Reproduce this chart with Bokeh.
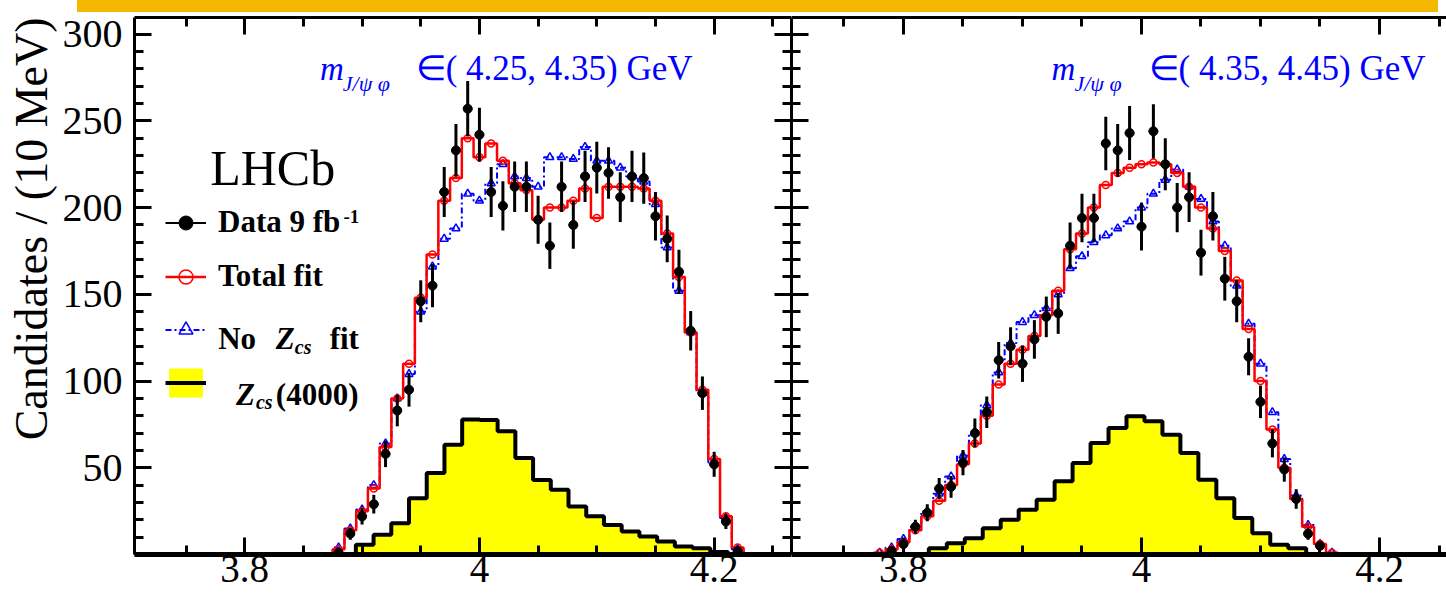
import numpy as np
from bokeh.plotting import figure
from bokeh.models import (ColumnDataSource, Range1d, LinearAxis, FixedTicker, Label,
                          Legend, LegendItem, Div, Title)
from bokeh.layouts import row, column
from bokeh.embed import file_html
from bokeh.resources import INLINE

SERIF = "Liberation Serif"
RED = "#FF0000"
BLUE = "#0000FF"
YELLOW = "#FFFF00"
ORANGE = "#F5B800"

# ---------------- data ----------------
# 10 MeV bin centres of m(J/psi K+) [GeV]
left_bins = np.round(np.arange(3.87, 4.2305, 0.01), 2)    # 3.87 .. 4.23
right_bins = np.round(np.arange(3.77, 4.1705, 0.01), 2)   # 3.77 .. 4.17

# m(J/psi phi) in (4.25, 4.35) GeV
left_data = [1, 12, 22, 29, 58, 83, 95, 146, 155, 209, 233, 257, 242, 209, 201,
             212, 212, 193, 178, 212, 190, 218, 223, 220, 206, 218, 217, 195, 182,
             163, 129, 93, 52, 19, 2]                       # bins 3.88 .. 4.22
left_total = [0, 3, 14, 25, 38, 62, 90, 110, 148, 173, 204, 217, 240, 229, 237,
              227, 214, 210, 193, 200, 200, 204, 211, 194, 212, 212, 212, 211, 204,
              185, 160, 128, 95, 55, 22, 4, 0]
left_nozcs = [0, 4, 15, 26, 40, 64, 90, 104, 140, 166, 182, 188, 208, 204, 214,
              225, 218, 217, 212, 229, 229, 228, 235, 227, 227, 223, 218, 215, 202,
              177, 152, 128, 93, 53, 21, 3, 0]
left_zcs_lo = 3.8947
left_zcs = [5.6, 11.4, 18, 32.5, 47, 63.3, 77.8, 77.5, 71, 55.6, 43, 37.3, 27.7,
            22, 17, 13.3, 10.4, 7.5, 4.6, 3.6, 1.5]

# m(J/psi phi) in (4.35, 4.45) GeV
right_data = [2, 6, 16, 24, 38, 39, 53, 70, 82, 112, 120, 110, 124, 137, 139, 178,
              194, 194, 237, 233, 243, 189, 244, 225, 200, 206, 174, 195, 159, 146,
              114, 88, 64, 49, 32, 12, 5]                   # bins 3.79 .. 4.15
right_total = [0, 1, 3, 7, 14, 22, 31, 40, 52, 64, 80, 98, 110, 118, 126, 138, 152,
               176, 185, 200, 213, 220, 223, 225, 226, 225, 220, 212, 200, 188, 175,
               158, 130, 100, 72, 50, 32, 16, 6, 1, 0]
right_nozcs = [0, 1, 4, 9, 16, 25, 35, 45, 57, 70, 86, 105, 122, 134, 138, 142, 150,
               165, 172, 180, 184, 188, 192, 200, 208, 216, 222, 212, 205, 192, 178,
               155, 133, 110, 82, 55, 34, 17, 6, 1, 0]
right_zcs_lo = 3.8213
right_zcs = [3.6, 6.5, 9.4, 15.2, 20, 25.8, 31.6, 42.2, 52.7, 64.3, 72.9, 79.7,
             76.8, 69.1, 58.5, 43.1, 32.5, 21, 12.3, 5.6, 3.6]
zcs_width = 0.0151

x_major = [3.8, 4.0, 4.2]
x_major_labels = {3.8: "3.8", 4.0: "4", 4.2: "4.2"}
x_minor = [round(3.70 + 0.05 * i, 2) for i in range(12)]
y_major = [50, 100, 150, 200, 250, 300]
y_minor = list(range(0, 310, 10))
Y_TOP = 309.6


def style_axis(ax, show_labels, font_size="39px", standoff=0, line_width=3):
    ax.axis_line_width = line_width
    ax.axis_line_color = "black"
    ax.major_tick_in = 17
    ax.major_tick_out = 0
    ax.minor_tick_in = 9
    ax.minor_tick_out = 0
    ax.major_tick_line_width = 3
    ax.minor_tick_line_width = 3
    ax.major_label_text_font = SERIF
    if show_labels:
        ax.major_label_text_color = "black"
        ax.major_label_text_font_size = font_size
        ax.major_label_standoff = standoff
    else:
        ax.major_label_text_color = None
        ax.major_label_text_font_size = "1px"
        ax.major_label_standoff = 0


def build_panel(width, border_left, x_start, x_end, bins, data_bins, data, total,
                nozcs, zcs_lo, zcs, y_labels, right_axis):
    p = figure(width=width, height=587,
               x_range=Range1d(x_start, x_end), y_range=Range1d(0, Y_TOP),
               x_axis_type=None, y_axis_type=None,
               output_backend="svg", toolbar_location=None,
               min_border_left=border_left, min_border_right=0,
               min_border_top=5, min_border_bottom=45)
    p.outline_line_color = None
    p.background_fill_color = "white"
    p.border_fill_color = "white"

    xt = FixedTicker(ticks=x_major, minor_ticks=x_minor)
    yt = FixedTicker(ticks=y_major, minor_ticks=y_minor)

    bottom = LinearAxis(ticker=xt, major_label_overrides=x_major_labels)
    style_axis(bottom, True, "39px", 1, line_width=5)
    p.add_layout(bottom, "below")
    top = LinearAxis(ticker=xt)
    style_axis(top, False)
    p.add_layout(top, "above")
    left = LinearAxis(ticker=yt)
    style_axis(left, y_labels, "40px", 12)
    p.add_layout(left, "left")
    if right_axis:
        right = LinearAxis(ticker=yt)
        style_axis(right, False)
        p.add_layout(right, "right")

    # Zcs(4000) component
    edges = zcs_lo + zcs_width * np.arange(len(zcs) + 1)
    zq = p.quad(left=edges[:-1], right=edges[1:], top=zcs, bottom=0,
                fill_color=YELLOW, line_color=YELLOW, line_width=1)
    sx = np.concatenate([[edges[0]], edges])
    sy = np.concatenate([[0], zcs, [0]])
    zs = p.step(sx, sy, mode="after", line_color="black", line_width=4)

    # fit without Zcs
    nz = np.array(nozcs, dtype=float)
    bs = p.step(bins, nz, mode="center", line_color=BLUE, line_width=2,
                line_dash="6 3 2 3")
    m = nz > 0
    bm = p.scatter(bins[m], nz[m], marker="triangle", size=8, fill_color=None,
                   line_color=BLUE, line_width=1.5)

    # total fit
    tt = np.array(total, dtype=float)
    rs = p.step(bins, tt, mode="center", line_color=RED, line_width=2.5)
    m = tt > 0
    rm = p.scatter(bins[m], tt[m], marker="circle", size=7, fill_color=None,
                   line_color=RED, line_width=1.5)

    # data
    d = np.array(data, dtype=float)
    err = np.sqrt(d)
    dsrc = ColumnDataSource(dict(x=data_bins, y=d, lo=d - err, hi=d + err,
                                 xl=data_bins - 0.004, xr=data_bins + 0.004))
    dv = p.segment(x0="x", x1="x", y0="lo", y1="hi", source=dsrc,
                   line_color="black", line_width=3)
    dh = p.segment(x0="xl", x1="xr", y0="y", y1="y", source=dsrc,
                   line_color="black", line_width=2)
    dp = p.scatter("x", "y", source=dsrc, marker="circle", size=9,
                   fill_color="black", line_color="black")
    return p, dict(zq=zq, zs=zs, bs=bs, bm=bm, rs=rs, rm=rm, dv=dv, dh=dh, dp=dp)


p1, r1 = build_panel(791, 131, 3.7061, 4.2659, left_bins, left_bins[1:-1], left_data,
                     left_total, left_nozcs, left_zcs_lo, left_zcs, True, True)
p2, r2 = build_panel(655, 0, 3.7059, 4.2563, right_bins, right_bins[2:-2], right_data,
                     right_total, right_nozcs, right_zcs_lo, right_zcs, False, False)

# y-axis title (aligned to the top end like the original)
p1.add_layout(Title(text="Candidates / (10 MeV)", align="right", text_font=SERIF,
                    text_font_size="46px", text_font_style="normal",
                    text_color="black", standoff=6), "left")

# ---------------- legend (left panel) ----------------
ck = p1.scatter([], [], marker="cross", size=14, line_color="black", line_width=3)
cr = p1.scatter([], [], marker="cross", size=14, line_color=RED, line_width=2)
cb = p1.scatter([], [], marker="cross", size=14, line_color=BLUE, line_width=2)
legend = Legend(items=[
    LegendItem(label="Data 9 fb", renderers=[r1["dh"], ck, r1["dp"]]),
    LegendItem(label="Total fit", renderers=[r1["rs"], cr, r1["rm"]]),
    LegendItem(label=" ", renderers=[r1["bs"], cb, r1["bm"]]),
    LegendItem(label=" ", renderers=[r1["zq"], r1["zs"]]),
], location=(31, 154), glyph_width=41, glyph_height=35, spacing=18, padding=0,
    margin=0, label_standoff=12, label_text_font=SERIF, label_text_font_style="bold",
    label_text_font_size="31px", label_text_color="black",
    border_line_color=None, background_fill_alpha=0)
p1.add_layout(legend)


def lab(p, x, y, text, size, style="normal", color="black", align="left"):
    p.add_layout(Label(x=x, y=y, text=text, text_font=SERIF, text_font_size=size,
                       text_font_style=style, text_color=color, text_align=align,
                       text_baseline="alphabetic"))


lab(p1, 3.8842, 195.0, "-1", "19px", "bold")
lab(p1, 3.7774, 124.3, "No", "31px", "bold")
lab(p1, 3.8265, 124.3, "Z", "31px", "bold italic")
lab(p1, 3.8427, 119.6, "cs", "20px", "bold italic")
lab(p1, 3.8724, 124.3, "fit", "31px", "bold")
lab(p1, 3.7926, 92.5, "Z", "31px", "bold italic")
lab(p1, 3.8096, 87.9, "cs", "20px", "bold italic")
lab(p1, 3.8265, 92.5, "(4000)", "31px", "bold")

lab(p1, 3.7706, 222.9, "LHCb", "50px")

lab(p1, 3.8641, 280.0, "m", "33px", "italic", BLUE)
lab(p1, 3.8836, 271.4, "J/ψ φ", "22px", "italic", BLUE)
lab(p1, 4.0636, 280.0, "∈( 4.25, 4.35) GeV", "35px", color=BLUE, align="center")

lab(p2, 3.9244, 280.0, "m", "33px", "italic", BLUE)
lab(p2, 3.9437, 271.4, "J/ψ φ", "22px", "italic", BLUE)
lab(p2, 4.1223, 280.0, "∈( 4.35, 4.45) GeV", "35px", color=BLUE, align="center")

bar = Div(text="", width=1361, height=12, margin=(0, 0, 0, 77),
          styles={"background-color": ORANGE})
layout = column(bar, row(p1, p2, spacing=0), spacing=0)

open("out.html", "w").write(file_html(layout, INLINE))
